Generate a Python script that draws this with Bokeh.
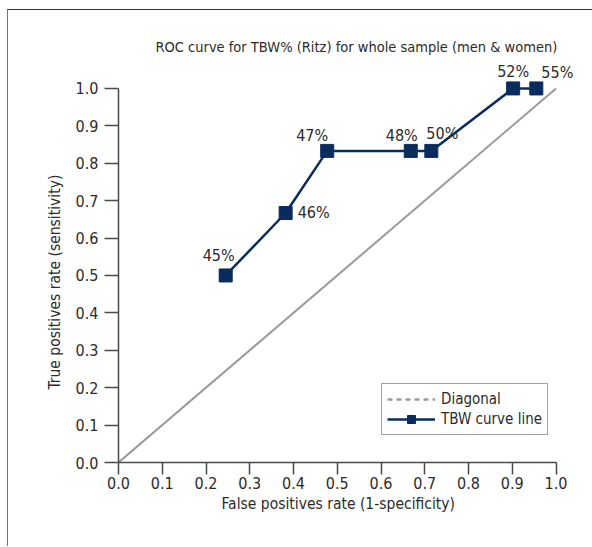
import math
from bokeh.plotting import figure
from bokeh.models import (FixedTicker, PrintfTickFormatter, Legend, LegendItem,
                          ColumnDataSource, Label, Title)
from bokeh.embed import file_html
from bokeh.resources import INLINE

# ---- data ----
title_text = "ROC curve for TBW% (Ritz) for whole sample (men & women)"
x_label = "False positives rate (1-specificity)"
y_label = "True positives rate (sensitivity)"
cutoffs = ["45%", "46%", "47%", "48%", "50%", "52%", "55%"]
fpr = [0.245, 0.382, 0.477, 0.668, 0.715, 0.902, 0.955]
tpr = [0.500, 0.667, 0.833, 0.833, 0.833, 1.000, 1.000]
diag_x = [0.0, 1.0]
diag_y = [0.0, 1.0]
ticks = [0.0, 0.1, 0.2, 0.3, 0.4, 0.5, 0.6, 0.7, 0.8, 0.9, 1.0]

# label offsets (screen px, up = positive) relative to each marker
lab_dx = [-7, 28, -15, -9, 11, 0, 21]
lab_dy = [20, 0, 15, 15, 17, 17, 16]

FONT = "Liberation Sans Narrow, DejaVu Sans Condensed, sans-serif"
NAVY = "#0a2c5c"
GRAY = "#9a9a9a"
TXT = "#2b2b2b"
AX = "#4a4a4a"

p = figure(width=585, height=537, output_backend="svg", toolbar_location=None,
           x_range=(0, 1.04), y_range=(0, 1.08),
           min_border_left=110, min_border_right=20, min_border_top=48,
           min_border_bottom=85)
p.margin = (9, 0, 0, 7)
p.styles = {"border-top": "1px solid #333333", "border-left": "1px solid #777777"}
p.outline_line_color = None
p.grid.visible = False
p.background_fill_color = "white"
p.border_fill_color = "white"

p.title.text = title_text
p.title.align = "left"
p.title.offset = 37
p.title.text_font = FONT
p.title.text_font_size = "14.5px"
p.title.text_font_style = "normal"
p.title.text_color = TXT
p.title.standoff = 8

for ax in (p.xaxis[0], p.yaxis[0]):
    ax.bounds = (0, 1)
    ax.ticker = FixedTicker(ticks=ticks)
    ax.formatter = PrintfTickFormatter(format="%.1f")
    ax.minor_tick_line_color = None
    ax.axis_line_color = AX
    ax.axis_line_width = 1.5
    ax.major_tick_line_color = AX
    ax.major_tick_line_width = 1.5
    ax.major_tick_in = 0
    ax.major_label_text_font = FONT
    ax.major_label_text_font_size = "16px"
    ax.major_label_text_color = TXT

p.xaxis.major_tick_out = 12
p.xaxis.major_label_standoff = 2
p.yaxis.major_tick_out = 14
p.yaxis.major_label_standoff = 6
p.yaxis.major_label_orientation = "horizontal"

# axis titles, positioned along the 0..1 span of each axis
xt = Title(text=x_label, align="left", offset=103, standoff=3,
           text_font=FONT, text_font_size="15.5px", text_font_style="normal",
           text_color=TXT)
p.add_layout(xt, "below")
yt = Title(text=y_label, align="left", offset=73, standoff=18,
           text_font=FONT, text_font_size="15.5px", text_font_style="normal",
           text_color=TXT)
p.add_layout(yt, "left")

# diagonal (solid in plot)
p.line(diag_x, diag_y, line_color=GRAY, line_width=2)
# legend proxy for diagonal (dashed)
diag_proxy = p.line([math.nan], [math.nan], line_color=GRAY, line_width=2.5,
                    line_dash="5 4")

src = ColumnDataSource(dict(x=fpr, y=tpr))
curve = p.line("x", "y", source=src, line_color=NAVY, line_width=2.5)
pts = p.scatter("x", "y", source=src, marker="square", size=13,
                fill_color=NAVY, line_color=NAVY)

for xi, yi, txt, dx, dy in zip(fpr, tpr, cutoffs, lab_dx, lab_dy):
    p.add_layout(Label(x=xi, y=yi, text=txt, x_offset=dx, y_offset=dy,
                       text_font=FONT, text_font_size="16px", text_color=TXT,
                       text_align="center", text_baseline="middle"))

legend = Legend(items=[LegendItem(label="Diagonal", renderers=[diag_proxy]),
                       LegendItem(label="TBW curve line", renderers=[curve, pts])],
                location=(263, 27))
legend.margin = 0
legend.padding = 5
legend.spacing = 0
legend.glyph_width = 48
legend.glyph_height = 20
legend.label_height = 19
legend.label_standoff = 6
legend.label_text_font = FONT
legend.label_text_font_size = "15px"
legend.label_text_color = TXT
legend.border_line_color = "#444444"
legend.border_line_width = 1.5
legend.background_fill_alpha = 1
p.add_layout(legend)

open("out.html", "w").write(file_html(p, INLINE))
